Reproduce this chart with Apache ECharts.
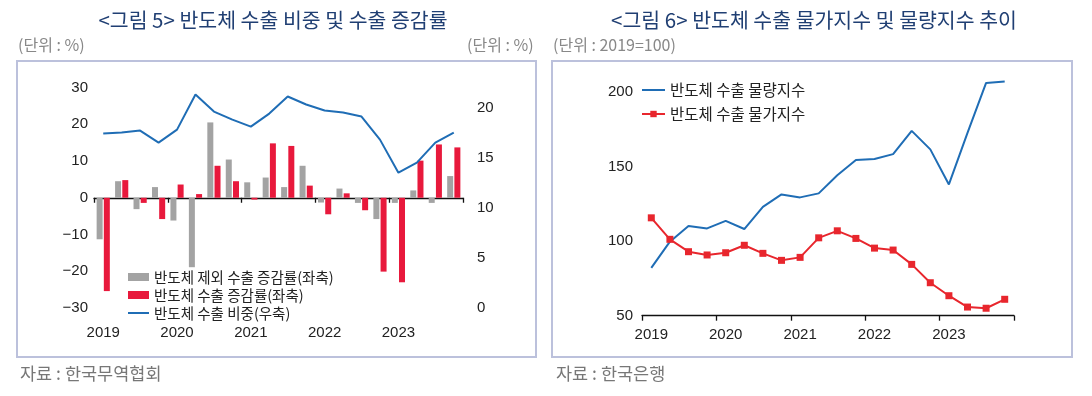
<!DOCTYPE html>
<html><head><meta charset="utf-8">
<script src="https://cdn.jsdelivr.net/npm/echarts@6/dist/echarts.min.js"></script>
<style>html,body{margin:0;padding:0;background:#fff}#c{width:1092px;height:396px}</style>
</head><body><div id="c"></div>
<script>
// ---- data ----
const quarters = ['2019Q1','2019Q2','2019Q3','2019Q4','2020Q1','2020Q2','2020Q3','2020Q4','2021Q1','2021Q2','2021Q3','2021Q4','2022Q1','2022Q2','2022Q3','2022Q4','2023Q1','2023Q2','2023Q3','2023Q4'];
const nonSemiGrowth = [-11.3, 4.5, -3.1, 2.9, -6.2, -18.9, 20.5, 10.4, 4.2, 5.5, 2.9, 8.7, -1.3, 2.5, -1.4, -5.8, -1.4, 2.0, -1.4, 5.9];
const semiGrowth = [-25.4, 4.8, -1.4, -5.8, 3.6, 1.0, 8.7, 4.5, -0.5, 14.8, 14.1, 3.3, -4.5, 1.2, -3.4, -20.1, -23.0, 10.1, 14.5, 13.7];
const semiShare = [17.4, 17.5, 17.7, 16.5, 17.8, 21.3, 19.6, 18.8, 18.1, 19.4, 21.1, 20.3, 19.7, 19.5, 19.1, 16.8, 13.5, 14.5, 16.5, 17.5];
const volumeIdx = [82.1, 99.6, 110.1, 108.5, 113.6, 108.1, 123.0, 131.3, 129.3, 132.0, 144.2, 154.3, 155.0, 158.3, 173.9, 161.5, 138.0, 172.5, 206.0, 207.0];
const priceIdx = [115.6, 101.2, 92.9, 90.7, 92.2, 97.2, 91.8, 87.1, 89.1, 102.2, 106.9, 101.8, 95.3, 94.0, 84.4, 72.1, 63.4, 55.8, 55.0, 61.0];
const leftTicks = [-30, -20, -10, 0, 10, 20, 30];
const rightTicks = [0, 5, 10, 15, 20];
const idxTicks = [50, 100, 150, 200];

const NAME_G = '반도체 제외 수출 증감률(좌축)';
const NAME_R = '반도체 수출 증감률(좌축)';
const NAME_B = '반도체 수출 비중(우축)';
const NAME_V = '반도체 수출 물량지수';
const NAME_P = '반도체 수출 물가지수';

const KR = '"Noto Sans CJK KR", sans-serif';
const NUM = '"Liberation Sans", Arial, sans-serif';
const AX = '#111';
const yearFmt = v => v.slice(0, 4);

const chart = echarts.init(document.getElementById('c'));
chart.setOption({
  animation: false,
  title: [
    {text: '<그림 5> 반도체 수출 비중 및 수출 증감률', left: 273, top: 10, textAlign: 'center', padding: 0,
     textStyle: {fontFamily: KR, fontSize: 20.5, fontWeight: 'normal', color: '#203f73'}},
    {text: '<그림 6> 반도체 수출 물가지수 및 물량지수 추이', left: 814, top: 10, textAlign: 'center', padding: 0,
     textStyle: {fontFamily: KR, fontSize: 20.5, fontWeight: 'normal', color: '#203f73'}}
  ],
  graphic: [
    {type: 'rect', shape: {x: 17, y: 61, width: 519, height: 296}, style: {fill: 'none', stroke: '#bcc1dc', lineWidth: 2}},
    {type: 'rect', shape: {x: 552, y: 61, width: 520, height: 296}, style: {fill: 'none', stroke: '#bcc1dc', lineWidth: 2}},
    {type: 'text', x: 18, y: 37, style: {text: '(단위 : %)', font: '16px ' + KR, fill: '#888'}},
    {type: 'text', x: 467, y: 37, style: {text: '(단위 : %)', font: '16px ' + KR, fill: '#888'}},
    {type: 'text', x: 553, y: 37, style: {text: '(단위 : 2019=100)', font: '16px ' + KR, fill: '#888'}},
    {type: 'text', x: 20, y: 365, style: {text: '자료 : 한국무역협회', font: '17.5px ' + KR, fill: '#777'}},
    {type: 'text', x: 556, y: 365, style: {text: '자료 : 한국은행', font: '17.5px ' + KR, fill: '#777'}}
  ],
  legend: [
    {orient: 'vertical', left: 127, top: 269, itemWidth: 21, itemHeight: 8, itemGap: 2, padding: 0,
     data: [{name: NAME_G, icon: 'rect'}, {name: NAME_R, icon: 'rect'}, {name: NAME_B, itemStyle: {opacity: 0}}],
     textStyle: {fontFamily: KR, fontSize: 14.5, lineHeight: 16, color: '#222'}},
    {orient: 'vertical', left: 641, top: 82, itemWidth: 23, itemHeight: 8, itemGap: 8, padding: 0,
     data: [{name: NAME_V, itemStyle: {opacity: 0}}, {name: NAME_P}],
     textStyle: {fontFamily: KR, fontSize: 15.5, lineHeight: 16, color: '#222'}}
  ],
  grid: [
    {left: 94, right: 629, top: 87.5, bottom: 88},
    {left: 642, right: 78, top: 77, bottom: 80.3}
  ],
  xAxis: [
    {type: 'category', gridIndex: 0, data: quarters, position: 'bottom',
     axisLine: {onZero: true, onZeroAxisIndex: 0, lineStyle: {color: AX, width: 1.3}},
     axisTick: {show: true, interval: 3, length: 5, lineStyle: {color: AX, width: 1.3}},
     axisLabel: {show: false}, splitLine: {show: false}},
    {type: 'category', gridIndex: 0, data: quarters, position: 'bottom',
     axisLine: {show: false, onZero: false}, axisTick: {show: false},
     axisLabel: {interval: 3, formatter: yearFmt, margin: 17, fontFamily: NUM, fontSize: 15, color: '#222'},
     splitLine: {show: false}},
    {type: 'category', gridIndex: 1, data: quarters, position: 'bottom',
     axisLine: {onZero: false, lineStyle: {color: AX, width: 1.3}},
     axisTick: {show: true, interval: 3, length: 5, lineStyle: {color: AX, width: 1.3}},
     axisLabel: {interval: 3, formatter: yearFmt, margin: 12, fontFamily: NUM, fontSize: 15, color: '#222'},
     splitLine: {show: false}}
  ],
  yAxis: [
    {type: 'value', gridIndex: 0, min: leftTicks[0], max: leftTicks[leftTicks.length - 1], interval: 10,
     axisLine: {show: false}, axisTick: {show: false}, splitLine: {show: false},
     axisLabel: {margin: 6, fontFamily: NUM, fontSize: 15, color: '#222',
       formatter: v => leftTicks.includes(v) ? String(v).replace('-', '\u2212') : ''}},
    {type: 'value', gridIndex: 0, position: 'right', min: 0, max: 22, interval: 5,
     axisLine: {show: false}, axisTick: {show: false}, splitLine: {show: false},
     axisLabel: {margin: 14, fontFamily: NUM, fontSize: 15, color: '#222',
       formatter: v => rightTicks.includes(v) ? String(v) : ''}},
    {type: 'value', gridIndex: 1, min: 50, max: 210, interval: 50,
     axisLine: {show: false}, axisTick: {show: false}, splitLine: {show: false},
     axisLabel: {margin: 9, fontFamily: NUM, fontSize: 15, color: '#222',
       formatter: v => idxTicks.includes(v) ? String(v) : ''}}
  ],
  series: [
    {name: NAME_G, type: 'bar', xAxisIndex: 0, yAxisIndex: 0, data: nonSemiGrowth,
     barWidth: 6, barGap: '20%', itemStyle: {color: '#a3a3a3'}},
    {name: NAME_R, type: 'bar', xAxisIndex: 0, yAxisIndex: 0, data: semiGrowth,
     barWidth: 6, barGap: '20%', itemStyle: {color: '#e8193c'}},
    {name: NAME_B, type: 'line', xAxisIndex: 0, yAxisIndex: 1, data: semiShare,
     symbol: 'none', lineStyle: {color: '#1f6db5', width: 2}, itemStyle: {color: '#1f6db5'}, z: 5},
    {name: NAME_V, type: 'line', xAxisIndex: 2, yAxisIndex: 2, data: volumeIdx,
     symbol: 'none', lineStyle: {color: '#1f6db5', width: 2}, itemStyle: {color: '#1f6db5'}},
    {name: NAME_P, type: 'line', xAxisIndex: 2, yAxisIndex: 2, data: priceIdx,
     symbol: 'rect', symbolSize: 7, showAllSymbol: true,
     lineStyle: {color: '#e8262d', width: 2}, itemStyle: {color: '#e8262d'}}
  ]
});
</script>
</body></html>
